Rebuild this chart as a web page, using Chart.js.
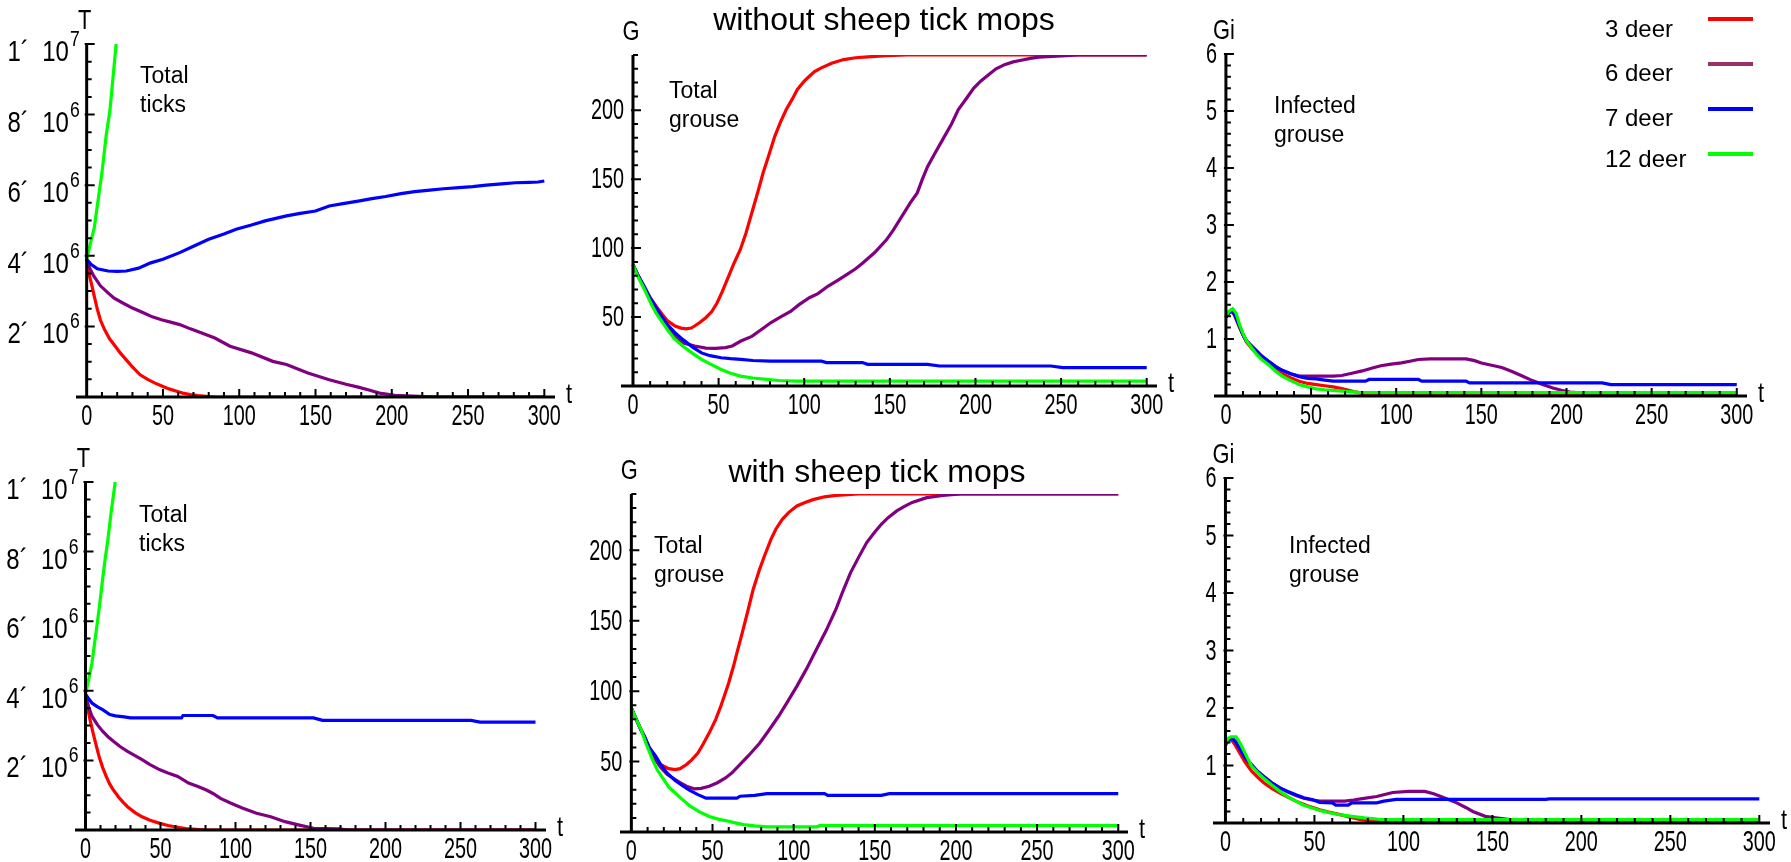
<!DOCTYPE html>
<html>
<head>
<meta charset="utf-8">
<title>Ticks and grouse, with and without sheep tick mops</title>
<script src="https://cdn.jsdelivr.net/npm/chart.js@4.4.1/dist/chart.umd.min.js"></script>
<style>
  html, body { margin: 0; padding: 0; background: #fff; }
  #wrap { position: relative; width: 1791px; height: 862px; }
  #wrap canvas { position: absolute; left: 0; top: 0; }
</style>
</head>
<body>
<div id="wrap">
  <canvas id="c1" width="1791" height="862"></canvas>
  <canvas id="c2" width="1791" height="862"></canvas>
  <canvas id="c3" width="1791" height="862"></canvas>
  <canvas id="c4" width="1791" height="862"></canvas>
  <canvas id="c5" width="1791" height="862"></canvas>
  <canvas id="c6" width="1791" height="862"></canvas>
</div>

<script>
// ---- data: [t, value] ----
// series order: 3 deer, 6 deer, 7 deer, 12 deer
const seriesNames = ['3 deer', '6 deer', '7 deer', '12 deer'];

const xTicks = [0, 50, 100, 150, 200, 250, 300];
const ticksYTicks = [2, 4, 6, 8, 10];          // millions
const ticksYBase = ['2\u00b4  10', '4\u00b4  10', '6\u00b4  10', '8\u00b4  10', '1\u00b4  10'];
const ticksYSup = ['6', '6', '6', '6', '7'];
const grouseYTicks = [50, 100, 150, 200];
const infectedYTicks = [1, 2, 3, 4, 5, 6];

// without mops: total ticks (millions)
const ticksNoRed = [[0,3.9],[2,3.4],[3.5,3.14],[5,2.85],[7,2.48],[9,2.18],[11.7,1.91],[15,1.65],[18.75,1.44],[22,1.25],[25.8,1.06],[30,0.85],[35,0.63],[40,0.5],[44.5,0.4],[50,0.3],[54,0.23],[60,0.15],[63,0.11],[68,0.07],[73,0.04],[80,0.01],[85,0],[300,0]];
const ticksNoPurple = [[0,3.9],[2,3.65],[4.7,3.42],[9,3.15],[14,2.95],[18,2.8],[23.4,2.67],[30,2.52],[37.5,2.38],[43,2.27],[49,2.19],[55,2.12],[61,2.05],[68,1.93],[75,1.82],[84,1.67],[94,1.44],[108,1.25],[122,1.01],[131,0.92],[145,0.68],[159,0.49],[170,0.36],[178,0.28],[185,0.2],[192,0.11],[202,0.05],[218,0.02],[230,0],[300,0]];
const ticksNoBlue = [[0,3.9],[3,3.75],[7,3.63],[14,3.57],[20,3.56],[26,3.57],[34,3.65],[42,3.8],[50,3.9],[61,4.09],[70,4.27],[80,4.47],[90,4.62],[98,4.75],[108,4.87],[117,4.99],[124,5.06],[131,5.13],[140,5.2],[150,5.27],[159,5.41],[168,5.48],[178,5.55],[187,5.62],[196,5.68],[206,5.76],[215,5.82],[225,5.86],[234,5.9],[244,5.93],[253,5.96],[262,6.0],[272,6.04],[281,6.07],[290,6.08],[296,6.09],[300,6.12]];
const ticksNoGreen = [[0,3.9],[3,4.45],[5,4.8],[8.2,5.8],[10,6.35],[12.9,7.45],[15.2,8.1],[17.6,9.2],[19.3,10]];

// without mops: total grouse
const grouseNoRed = [[0,88],[3,80],[6.7,71],[10,64],[13.4,58],[17,52],[20,47.5],[24.6,43.5],[28,42],[31,41.5],[34,42],[36,43.5],[39,46],[42.5,49.5],[46,54],[49,60],[52,68],[56,80],[59,89],[62.7,99],[66,111],[69.4,125.6],[73,141],[76,154.6],[79,166],[82.8,181],[86,191],[89.5,200.5],[93,208],[96,215],[100,221],[103,224.6],[106,228],[110,230.7],[116,234],[123,236.7],[130,238],[137,238.6],[148,239.6],[160,240],[300,240]];
const grouseNoPurple = [[0,88],[3,80],[6.7,71],[10,63],[13.4,56],[17,49],[20,43],[24.6,35.5],[30,31],[36,29],[42.5,27.5],[48,27.3],[54,27.8],[58,29],[63,32.6],[69.4,36],[75,41],[80.6,46],[86,50],[92,54],[97,59],[103,64],[108,67],[114,72.5],[120,77],[125,81],[130,85],[134,89],[141,96.6],[148,106],[152,113],[157,123],[162,133],[166,140],[169,150],[172,159],[176,168],[181,179],[186,190],[190,200.5],[195,209],[199,216],[203,221],[208,226],[212,230],[217,233],[222,235],[226,236],[232,237.5],[237,238.4],[245,239],[253,239.6],[260,240],[300,240]];
const grouseNoBlue = [[0,88],[3,80],[6.7,72],[10,64],[13.4,57],[17,50],[20,44.7],[25,38],[29,33.8],[35,28],[40,24],[45,22],[51.5,20.5],[57,19.8],[63,19.3],[70,18.5],[80,18],[110,18],[113,17],[134,17],[137,15.7],[172,15.7],[179,14.5],[244,14.5],[251,13.3],[300,13.3]];
const grouseNoGreen = [[0,88],[3,79],[6.7,70],[10,61],[13.4,53],[17,46.5],[20,41],[24,34.5],[29,29],[35,23.5],[40,19.3],[45,16],[51.5,12],[57,9.3],[62.7,7.2],[70,5.8],[78,4.8],[85,4],[95,3.6],[300,3.6]];

// without mops: infected grouse
const infNoRed = [[0,1.38],[1.5,1.45],[3,1.5],[5,1.42],[8,1.2],[10,1.07],[12,0.95],[15,0.84],[18,0.75],[21,0.66],[25,0.57],[29,0.47],[33,0.39],[38,0.32],[43,0.26],[48,0.22],[53,0.2],[58,0.18],[63,0.16],[68,0.13],[71,0.11],[75,0.08],[78,0.06],[82,0.03],[90,0.01],[300,0.01]];
const infNoPurple = [[0,1.38],[1.5,1.45],[3,1.5],[5,1.44],[8,1.22],[10,1.08],[12,0.97],[15,0.88],[18,0.79],[21,0.7],[25,0.61],[29,0.52],[33,0.45],[38,0.39],[43,0.35],[53,0.35],[63,0.35],[68,0.36],[74,0.4],[80,0.44],[86,0.49],[91,0.53],[97,0.56],[103,0.58],[108,0.61],[113,0.64],[120,0.65],[141,0.65],[146,0.62],[150,0.58],[156,0.54],[162,0.5],[168,0.43],[174,0.35],[180,0.27],[186,0.2],[192,0.14],[197,0.1],[202,0.07],[210,0.05],[300,0.05]];
const infNoBlue = [[0,1.38],[1.5,1.45],[3,1.5],[5,1.44],[8,1.22],[10,1.08],[12,0.97],[15,0.88],[18,0.79],[21,0.7],[25,0.61],[29,0.52],[33,0.45],[38,0.39],[43,0.34],[48,0.31],[53,0.3],[58,0.28],[63,0.26],[82,0.26],[84,0.29],[113,0.29],[115,0.26],[141,0.26],[143,0.23],[221,0.23],[226,0.2],[300,0.2]];
const infNoGreen = [[0,1.4],[1.5,1.48],[4,1.53],[6,1.45],[8,1.25],[10,1.1],[12,0.97],[15,0.85],[18,0.73],[21,0.64],[25,0.55],[29,0.44],[33,0.35],[38,0.27],[43,0.2],[48,0.16],[53,0.126],[58,0.11],[63,0.1],[70,0.08],[78,0.065],[85,0.058],[300,0.058]];

// with mops: total ticks (millions)
const ticksMopRed = [[0,3.9],[1.5,3.5],[3,3.17],[5,2.8],[7,2.45],[9,2.12],[11.4,1.8],[13.8,1.54],[16,1.33],[18.6,1.15],[22,0.95],[25,0.8],[28,0.67],[33,0.5],[37.7,0.38],[43,0.28],[49.6,0.19],[55,0.13],[61.5,0.08],[67,0.04],[73.5,0.02],[80,0],[300,0]];
const ticksMopPurple = [[0,3.9],[2,3.55],[4.3,3.27],[8,3.02],[11.4,2.84],[15,2.68],[18.6,2.55],[23,2.4],[28,2.26],[33,2.14],[37.7,2.02],[43,1.88],[49.6,1.73],[55,1.64],[61.5,1.54],[68.7,1.35],[75,1.25],[80.6,1.15],[85,1.05],[90,0.91],[97,0.77],[104.5,0.63],[114,0.48],[123.5,0.38],[133,0.24],[142.6,0.14],[152,0.05],[160,0.04],[169,0.03],[175,0],[300,0]];
const ticksMopBlue = [[0,3.9],[2,3.78],[4.3,3.65],[8,3.54],[11.4,3.46],[16.2,3.32],[20,3.28],[25.8,3.25],[30,3.22],[64,3.22],[65,3.29],[85,3.29],[88,3.22],[152,3.22],[158,3.15],[257,3.15],[263,3.1],[300,3.1]];
const ticksMopGreen = [[0,3.9],[2,4.3],[4.3,4.8],[6,5.35],[7.9,5.96],[9.5,6.5],[11.4,7.2],[13,7.75],[15,8.37],[17,9.1],[19.8,10]];

// with mops: total grouse
const grouseMopRed = [[0,88],[3,80],[6,72.7],[8,68],[11,60],[15,51.4],[18,48],[20,46.7],[23,45],[27,44.3],[30,45],[34,47.9],[37,51],[41,56],[44,62],[48,70.4],[52,80],[55,89],[58,99],[60,106],[63,118],[65,127],[68,140],[72,158],[75,172],[79,186.5],[82,196],[86,207.8],[89,215],[93,222],[97,227],[102,231.5],[107,234],[112,236],[119,238],[126,239],[140,240],[300,240]];
const grouseMopPurple = [[0,88],[3,80],[6,72.5],[8,67.5],[11,59],[15,51],[18,46],[22,41],[27,37.2],[30,35],[34,32.5],[39,30.6],[43,31],[48,32.5],[53,35],[58,38.4],[62,42],[67,48],[72,54],[79,63],[84,71],[90.6,82],[96,92],[102,103.6],[108,116],[114,129.6],[120,143],[126,158],[130,170],[135,184],[140,195],[145,205.5],[150,213],[154,218.5],[158,223],[163.5,228],[168,231],[173,234],[182,237.4],[192,239],[203,240],[300,240]];
const grouseMopBlue = [[0,88],[3,80],[6,72],[8,68],[11,60],[15,53.8],[18,48],[22,42],[27,36.5],[32,32.5],[36,29.5],[41,26.5],[46,24],[65,24],[67,25.4],[76,26],[83.5,27.2],[119,27.2],[121,26],[154,26],[159,27.2],[300,27.2]];
const grouseMopGreen = [[0,88],[3,80],[6,72.7],[9,63],[13,51.4],[16,44],[20,37.2],[23,32],[27,27.7],[31,23.5],[36.5,18.2],[42,14.3],[48,11],[54,9],[60,7.6],[64,6.5],[69,5.2],[76,4.3],[83.5,3.6],[114,3.6],[116,4.5],[300,4.5]];

// with mops: infected grouse
const infMopRed = [[0,1.35],[1.5,1.42],[3,1.46],[5,1.38],[8,1.22],[11,1.06],[14.7,0.9],[18,0.8],[21.5,0.7],[26,0.6],[30.6,0.52],[35,0.45],[39.6,0.38],[46,0.3],[53,0.23],[58,0.19],[64.5,0.145],[70,0.1],[76,0.06],[83,0.03],[90,0.01],[300,0.01]];
const infMopPurple = [[0,1.38],[1.5,1.44],[4,1.47],[6,1.4],[9,1.24],[11,1.14],[14.7,1.01],[18,0.9],[21.5,0.81],[26,0.7],[30.6,0.61],[35,0.54],[39.6,0.48],[44,0.43],[48.7,0.4],[53,0.38],[67,0.38],[72,0.4],[76,0.42],[85,0.46],[90,0.5],[94,0.53],[103,0.55],[112,0.55],[117,0.51],[121,0.46],[126,0.4],[130,0.35],[135,0.27],[139,0.2],[146,0.116],[153,0.087],[160,0.06],[300,0.06]];
const infMopBlue = [[0,1.38],[1.5,1.44],[4,1.47],[6,1.4],[9,1.24],[11,1.14],[14.7,1.01],[18,0.9],[21.5,0.81],[26,0.7],[30.6,0.61],[35,0.55],[39.6,0.49],[44,0.44],[48.7,0.41],[53,0.36],[60,0.35],[62,0.31],[69,0.31],[71,0.35],[85,0.35],[89,0.38],[96,0.41],[180,0.41],[182,0.42],[300,0.42]];
const infMopGreen = [[0,1.39],[1.5,1.47],[3,1.5],[6,1.5],[8,1.4],[10,1.28],[12,1.15],[14.7,0.99],[18,0.88],[21.5,0.78],[26,0.66],[30.6,0.55],[35,0.46],[39.6,0.38],[44,0.31],[48.7,0.26],[54,0.21],[60,0.17],[65,0.14],[71,0.116],[78,0.09],[85,0.07],[90,0.06],[300,0.06]];

// ---- style ----
const lineColors = ['#ff0000', '#800080', '#0000ff', '#00ff00'];
const legendSwatch = ['#ff0000', '#96346a', '#0000ff', '#00ff00'];
const SANS = '"Liberation Sans", Arial, Helvetica, sans-serif';

function squeezed(ctx, text, x, y, align, sx) {
  ctx.save();
  ctx.translate(x, y);
  ctx.scale(sx, 1);
  ctx.textAlign = align;
  ctx.fillText(text, 0, 0);
  ctx.restore();
}

// Mathematica-style axes, tick labels and annotations, drawn over the curves
const mmaAxes = {
  id: 'mma',
  afterDatasetsDraw(chart, args, o) {
    const ctx = chart.ctx, xs = chart.scales.x, ys = chart.scales.y, a = chart.chartArea;
    const x0 = xs.getPixelForValue(0), y0 = ys.getPixelForValue(0), yTop = ys.getPixelForValue(ys.max);
    ctx.save();
    ctx.strokeStyle = '#000';
    ctx.fillStyle = '#000';

    ctx.lineWidth = 3;
    ctx.beginPath();
    ctx.moveTo(a.left, y0); ctx.lineTo(a.right, y0);
    ctx.moveTo(x0, y0 + 1.5); ctx.lineTo(x0, yTop);
    ctx.stroke();

    // ticks
    ctx.lineWidth = 2;
    ctx.beginPath();
    for (let i = 1; i <= 30; i++) {
      const px = xs.getPixelForValue(i * 10), big = i % 5 === 0;
      ctx.moveTo(px, y0); ctx.lineTo(px, y0 - (big ? 8 : 5));
    }
    const nMinor = Math.round(ys.max / o.yMinor);
    for (let i = 1; i <= nMinor; i++) {
      const v = i * o.yMinor, py = ys.getPixelForValue(v);
      const big = Math.abs(v / o.yMajor - Math.round(v / o.yMajor)) < 1e-6;
      ctx.moveTo(x0 - (big ? 2 : 0), py); ctx.lineTo(x0 + (big ? 8 : 5), py);
    }
    ctx.stroke();

    // x tick labels
    ctx.font = o.tickFont + 'px ' + SANS;
    ctx.textBaseline = 'alphabetic';
    xTicks.forEach(v => squeezed(ctx, String(v), xs.getPixelForValue(v), y0 + o.xLabelDy, 'center', o.sx));

    // y tick labels
    if (o.ySup) {
      o.yTicks.forEach((v, i) => {
        const py = ys.getPixelForValue(v), right = x0 - 7;
        ctx.font = '22px ' + SANS;
        const wSup = ctx.measureText(o.ySup[i]).width * 0.8;
        squeezed(ctx, o.ySup[i], right - wSup, py + 2, 'left', 0.8);
        ctx.font = '30px ' + SANS;
        squeezed(ctx, o.yBase[i], right - wSup - 1, py + 17, 'right', 0.8);
      });
    } else {
      ctx.textBaseline = 'middle';
      o.yTicks.forEach(v => squeezed(ctx, String(v), x0 - 9, ys.getPixelForValue(v) + 1, 'right', o.sx));
    }

    // axis names
    ctx.font = '28px ' + SANS;
    ctx.textBaseline = 'middle';
    squeezed(ctx, o.yName, x0 - 2, yTop - 23, 'center', 0.78);
    squeezed(ctx, 't', a.right + 14, y0 - 2, 'center', 0.78);

    // annotation text inside the panel
    ctx.font = '23px ' + SANS;
    ctx.textBaseline = 'alphabetic';
    ctx.textAlign = 'left';
    o.note.forEach((line, i) => ctx.fillText(line, o.noteX, o.noteY + i * 29));

    if (o.title) {
      ctx.font = '32px ' + SANS;
      ctx.textAlign = 'center';
      ctx.fillText(o.title, o.titleX, o.titleY);
    }

    if (o.legend) {
      ctx.font = '24px ' + SANS;
      ctx.textAlign = 'left';
      chart.data.datasets.forEach((ds, i) => {
        const y = 19 + i * 45;
        ctx.fillStyle = '#000';
        ctx.fillText(ds.label, 1605, y + 18 - (i === 3 ? 4 : 0) + (i > 0 ? -1 : 0));
        ctx.strokeStyle = legendSwatch[i];
        ctx.lineWidth = 4;
        ctx.beginPath(); ctx.moveTo(1708, y); ctx.lineTo(1753, y); ctx.stroke();
      });
    }
    ctx.restore();
  }
};

function makePanel(id, series, box, xMax, yMax, axisOpts) {
  return new Chart(document.getElementById(id), {
    type: 'line',
    data: {
      datasets: series.map((pts, i) => ({
        label: seriesNames[i],
        data: pts.map(p => ({ x: p[0], y: p[1] })),
        borderColor: lineColors[i],
        borderWidth: 3.2,
        pointRadius: 0,
        tension: 0,
        fill: false,
        order: 3 - i
      }))
    },
    options: {
      responsive: false,
      animation: false,
      devicePixelRatio: 1,
      events: [],
      layout: { padding: { left: box[0], top: box[1], right: 1791 - box[2], bottom: 862 - box[3] } },
      scales: {
        x: { type: 'linear', min: -7, max: xMax, display: false },
        y: { type: 'linear', min: 0, max: yMax, display: false }
      },
      plugins: {
        legend: { display: false },
        tooltip: { enabled: false },
        mma: Object.assign({ tickFont: 30, sx: 0.66, xLabelDy: 28 }, axisOpts)
      }
    },
    plugins: [mmaAxes]
  });
}

makePanel('c1', [ticksNoRed, ticksNoPurple, ticksNoBlue, ticksNoGreen], [76, 44, 555, 397], 307, 10, {
  yTicks: ticksYTicks, yBase: ticksYBase, ySup: ticksYSup, yMajor: 2, yMinor: 0.5,
  yName: 'T', note: ['Total', 'ticks'], noteX: 140, noteY: 83
});
makePanel('c2', [grouseNoRed, grouseNoPurple, grouseNoBlue, grouseNoGreen], [621, 55, 1157, 386], 306, 240, {
  yTicks: grouseYTicks, yMajor: 50, yMinor: 10,
  yName: 'G', note: ['Total', 'grouse'], noteX: 669, noteY: 98,
  title: 'without sheep tick mops', titleX: 884, titleY: 30
});
makePanel('c3', [infNoRed, infNoPurple, infNoBlue, infNoGreen], [1214, 54, 1747, 396], 306, 6, {
  yTicks: infectedYTicks, yMajor: 1, yMinor: 0.2,
  yName: 'Gi', note: ['Infected', 'grouse'], noteX: 1274, noteY: 113, legend: true
});
makePanel('c4', [ticksMopRed, ticksMopPurple, ticksMopBlue, ticksMopGreen], [75, 482, 546, 830], 307, 10, {
  yTicks: ticksYTicks, yBase: ticksYBase, ySup: ticksYSup, yMajor: 2, yMinor: 0.5,
  yName: 'T', note: ['Total', 'ticks'], noteX: 139, noteY: 522
});
makePanel('c5', [grouseMopRed, grouseMopPurple, grouseMopBlue, grouseMopGreen], [620, 494, 1128, 832], 306, 240, {
  yTicks: grouseYTicks, yMajor: 50, yMinor: 10,
  yName: 'G', note: ['Total', 'grouse'], noteX: 654, noteY: 553,
  title: 'with sheep tick mops', titleX: 877, titleY: 482
});
makePanel('c6', [infMopRed, infMopPurple, infMopBlue, infMopGreen], [1213, 478, 1770, 823], 306, 6, {
  yTicks: infectedYTicks, yMajor: 1, yMinor: 0.2,
  yName: 'Gi', note: ['Infected', 'grouse'], noteX: 1289, noteY: 553
});
</script>
</body>
</html>
